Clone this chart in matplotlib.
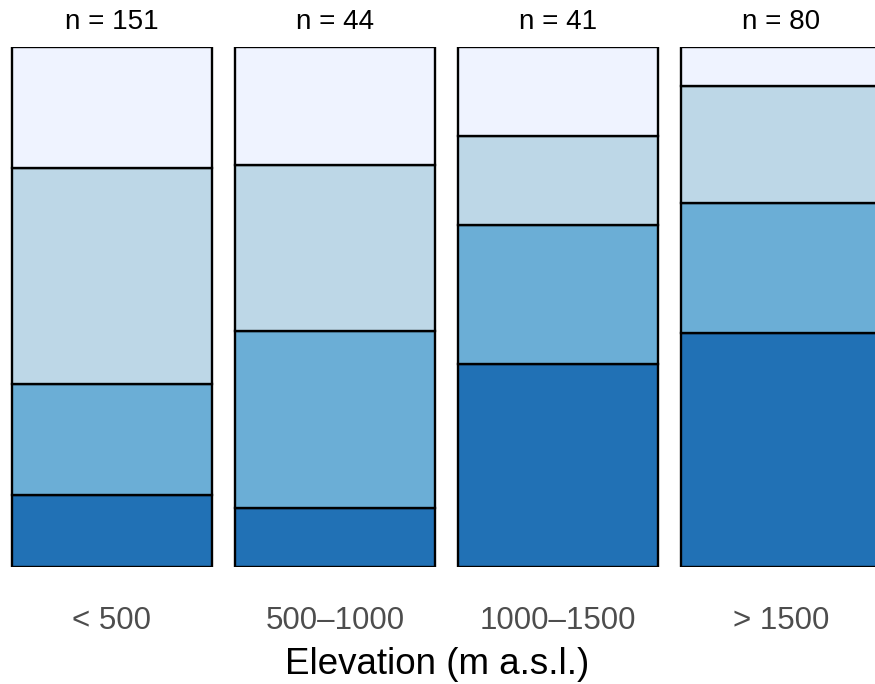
import numpy as np
import matplotlib
matplotlib.use("Agg")
import matplotlib.pyplot as plt

plt.rcParams['font.family'] = ['Liberation Sans', 'DejaVu Sans']

# elevation classes and counts per class (bottom -> top of each bar)
elevation = ["< 500", "500\u20131000", "1000\u20131500", "> 1500"]
n_total = [151, 44, 41, 80]
cnt_dark = [21, 5, 16, 36]
cnt_mid = [32, 15, 11, 20]
cnt_light = [63, 14, 7, 18]
cnt_pale = [35, 10, 7, 6]

colors = ["#2171B5", "#6BAED6", "#BDD7E7", "#EFF3FF"]

W, H = 875, 684
fig = plt.figure(figsize=(W / 100, H / 100), dpi=100)
# axes covers the whole width; bars placed with data coords
ax = fig.add_axes([0, (H - 567) / H, 1, 520 / H])

x = np.arange(len(elevation))
stack = np.array([cnt_dark, cnt_mid, cnt_light, cnt_pale], dtype=float)
props = stack / stack.sum(axis=0)

bottom = np.zeros(len(x))
for i in range(len(props)):
    ax.bar(x, props[i], width=0.9, bottom=bottom, color=colors[i],
           edgecolor="black", linewidth=1.7)
    bottom += props[i]

ax.set_xlim(-112 / 223, (875 - 112) / 223)
ax.set_ylim(0, 1)
for s in ax.spines.values():
    s.set_visible(False)
ax.set_yticks([])
ax.set_xticks(x)
ax.set_xticklabels(elevation, fontsize=22.5, color="#4D4D4D")
ax.tick_params(axis="x", length=0, pad=28)

for xi, n in zip(x, n_total):
    ax.text(xi, 1.0 + 25 / 520, f"n = {n}", ha="center", va="center",
            fontsize=20, color="black")

fig.text(0.5, 1 - 665 / H, "Elevation (m a.s.l.)", ha="center", va="center",
         fontsize=26.5, color="black")

fig.savefig("out.png", dpi=100)
